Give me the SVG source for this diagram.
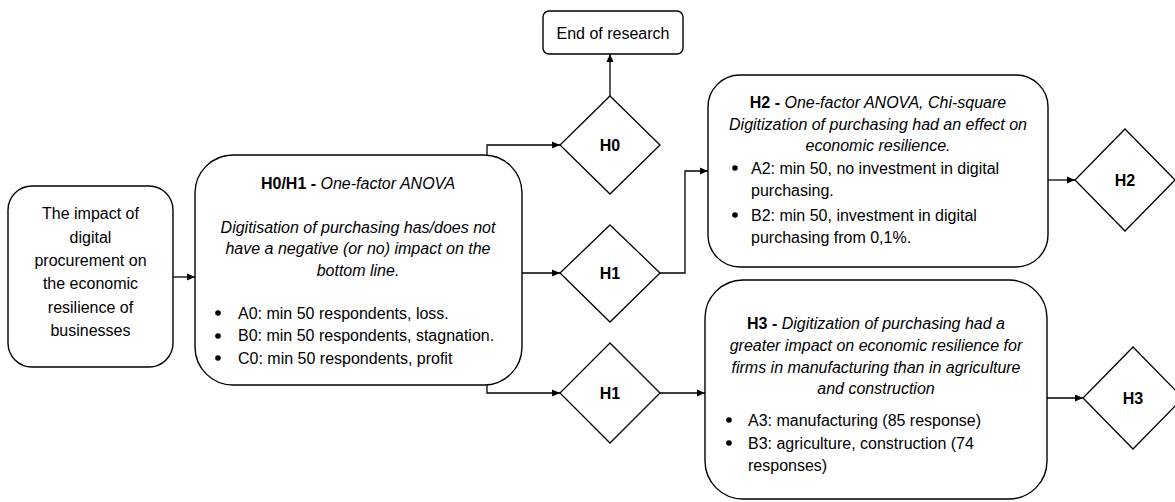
<svg xmlns="http://www.w3.org/2000/svg" width="1175" height="502" viewBox="0 0 1175 502">
<style>
.box{fill:#fff;stroke:#000;stroke-width:1.4}
.dia{fill:#fff;stroke:#000;stroke-width:1.3}
.con{fill:none;stroke:#000;stroke-width:1.3}
.dot{fill:#000}
text{font-family:'Liberation Sans',Arial,sans-serif;font-size:16px;fill:#000}
.c{text-anchor:middle}
.b{font-weight:bold}
.i{font-style:italic}
.dl{font-size:16px;font-weight:bold;text-anchor:middle}
</style>
<defs>
<marker id="arr" markerUnits="userSpaceOnUse" markerWidth="8" markerHeight="8" refX="8" refY="4" orient="auto">
<path d="M0,0.5 L8,4 L0,7.5 z" fill="#000"/>
</marker>
</defs>
<rect width="1175" height="502" fill="#fff"/>

<g id="connectors">
<path class="con" d="M173,277 H195" marker-end="url(#arr)"/>
<path class="con" d="M487,155 V145 H560" marker-end="url(#arr)"/>
<path class="con" d="M610,96 V54" marker-end="url(#arr)"/>
<path class="con" d="M522,273 H560" marker-end="url(#arr)"/>
<path class="con" d="M660,273 H685 V171 H708" marker-end="url(#arr)"/>
<path class="con" d="M487,385 V393 H560" marker-end="url(#arr)"/>
<path class="con" d="M660,393 H705" marker-end="url(#arr)"/>
<path class="con" d="M1048,180 H1075" marker-end="url(#arr)"/>
<path class="con" d="M1047,398 H1083" marker-end="url(#arr)"/>
</g>

<g id="start">
<rect class="box" x="8" y="186" width="165" height="181" rx="24"/>
<text class="c" x="90.5" y="219">The impact of</text>
<text class="c" x="90.5" y="243">digital</text>
<text class="c" x="90.5" y="266">procurement on</text>
<text class="c" x="90.5" y="289">the economic</text>
<text class="c" x="90.5" y="313">resilience of</text>
<text class="c" x="90.5" y="336">businesses</text>
</g>

<g id="h0h1">
<rect class="box" x="195" y="155" width="327" height="230" rx="38"/>
<text class="c" x="358" y="189"><tspan class="b">H0/H1 -</tspan><tspan class="i"> One-factor ANOVA</tspan></text>
<text class="c i" x="358" y="233">Digitisation of purchasing has/does not</text>
<text class="c i" x="358" y="254">have a negative (or no) impact on the</text>
<text class="c i" x="358" y="276">bottom line.</text>
<circle class="dot" cx="218" cy="313" r="2.8"/>
<circle class="dot" cx="218" cy="336" r="2.8"/>
<circle class="dot" cx="218" cy="358" r="2.8"/>
<text x="238" y="319">A0: min 50 respondents, loss.</text>
<text x="238" y="341">B0: min 50 respondents, stagnation.</text>
<text x="238" y="364">C0: min 50 respondents, profit</text>
</g>

<g id="end">
<rect class="box" x="543" y="11" width="140" height="43" rx="6"/>
<text class="c" x="613" y="39">End of research</text>
</g>

<g id="d_h0">
<polygon class="dia" points="610,96 660,145 610,194 560,145"/>
<text class="dl" x="610" y="151">H0</text>
</g>

<g id="d_h1a">
<polygon class="dia" points="610,225 660,273 610,322 560,273"/>
<text class="dl" x="610" y="279">H1</text>
</g>

<g id="d_h1b">
<polygon class="dia" points="610,343 660,393 610,443 560,393"/>
<text class="dl" x="610" y="399">H1</text>
</g>

<g id="h2">
<rect class="box" x="708" y="75" width="340" height="192" rx="32"/>
<text class="c" x="878" y="108"><tspan class="b">H2 -</tspan><tspan class="i"> One-factor ANOVA, Chi-square</tspan></text>
<text class="c i" x="878" y="130">Digitization  of purchasing had an effect on</text>
<text class="c i" x="878" y="151">economic resilience.</text>
<circle class="dot" cx="735" cy="168" r="2.8"/>
<circle class="dot" cx="735" cy="215" r="2.8"/>
<text x="751" y="174">A2: min 50, no investment in digital</text>
<text x="751" y="196">purchasing.</text>
<text x="751" y="221">B2: min 50, investment in digital</text>
<text x="751" y="243">purchasing from 0,1%.</text>
</g>

<g id="d_h2">
<polygon class="dia" points="1125,129 1175,180 1125,231 1075,180"/>
<text class="dl" x="1125" y="186">H2</text>
</g>

<g id="h3">
<rect class="box" x="705" y="280" width="342" height="219" rx="38"/>
<text class="c" x="876" y="329"><tspan class="b">H3 -</tspan><tspan class="i"> Digitization  of purchasing had a</tspan></text>
<text class="c i" x="876" y="351">greater impact on economic resilience for</text>
<text class="c i" x="876" y="373">firms in manufacturing than in agriculture</text>
<text class="c i" x="876" y="394">and construction</text>
<circle class="dot" cx="729" cy="420" r="2.8"/>
<circle class="dot" cx="729" cy="443" r="2.8"/>
<text x="748" y="426">A3: manufacturing (85 response)</text>
<text x="748" y="449">B3: agriculture, construction (74</text>
<text x="748" y="471">responses)</text>
</g>

<g id="d_h3">
<polygon class="dia" points="1133,347 1183,398 1133,449 1083,398"/>
<text class="dl" x="1133" y="404">H3</text>
</g>
</svg>
